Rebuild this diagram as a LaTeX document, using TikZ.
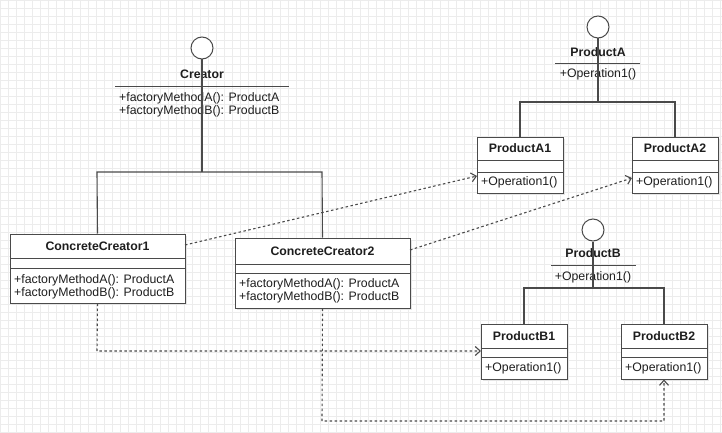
\documentclass[tikz,border=0pt]{standalone}
\usepackage{fontspec}
\setmainfont{Liberation Sans}
\usetikzlibrary{arrows.meta,calc}
\definecolor{lncol}{HTML}{4A4A4A}
\definecolor{gridcol}{HTML}{ECECEC}
\definecolor{txtcol}{HTML}{1E1E1E}
\tikzset{
  classbox/.style={draw=lncol, line width=1pt, fill=white, rectangle, inner sep=0pt},
  boxshadow/.style={fill=black!10, draw=none},
  sepline/.style={draw=lncol, line width=0.9pt},
  conn/.style={draw=lncol, line width=1.1pt},
  dep/.style={draw=lncol, line width=1.1pt, dash pattern=on 2.5pt off 2.5pt, -{Straight Barb[length=5pt,width=9pt]}},
  iface/.style={circle, draw=lncol, line width=1pt, fill=white, minimum size=22pt, inner sep=0pt},
  ttl/.style={font=\fontsize{12.3}{14}\selectfont\bfseries, text=txtcol, inner sep=0pt},
  mth/.style={font=\fontsize{12.3}{14}\selectfont, text=txtcol, inner sep=0pt, anchor=west},
  mthc/.style={font=\fontsize{12.3}{14}\selectfont, text=txtcol, inner sep=0pt},
}
\newcommand{\umlbox}[9]{%
  \fill[boxshadow] (#2+2,#3+2) rectangle (#4+2,#5+2);
  \node[classbox, minimum width={(#4-#2)*1pt}, minimum height={(#5-#3)*1pt}] (#1) at ({(#2+#4)/2},{(#3+#5)/2}) {};
  \draw[sepline] (#2,#6) -- (#4,#6);
  \draw[sepline] (#2,#7) -- (#4,#7);
  \node[ttl] (#1-t) at ({(#2+#4)/2},{(#3+#6)/2}) {#8};
  #9
}
\begin{document}
\begin{tikzpicture}[x=1pt,y=-1pt]
\useasboundingbox (0,0) rectangle (722,433);
\fill[white] (0,0) rectangle (722,433);
\foreach \gx in {0,8,...,720} \draw[gridcol, line width=0.6pt] (\gx,0) -- (\gx,433);
\foreach \gy in {0,8,...,432} \draw[gridcol, line width=0.6pt] (0,\gy) -- (722,\gy);

% ---------- Creator (interface) ----------
\node[iface] (creatorc) at (202,48) {};
\node[ttl] (creatort) at (202,74) {Creator};
\draw[sepline] (115,86) -- (289,86);
\node[mth] (creatorm1) at (119,98) {+factoryMethodA(): ProductA};
\node[mth] (creatorm2) at (119,111) {+factoryMethodB(): ProductB};
\coordinate (creatorj) at (202,172);
\coordinate (cjl) at (97,172);
\coordinate (cjr) at (322,172);

% ---------- ProductA (interface) ----------
\node[iface] (pac) at (598,27) {};
\node[ttl] (pat) at (598,52) {ProductA};
\draw[sepline] (555,63) -- (640,63);
\node[mthc] (pam) at (598,74) {+Operation1()};
\coordinate (paj) at (598,102);
\coordinate (pajl) at (520,102);
\coordinate (pajr) at (675,102);

% ---------- ProductB (interface) ----------
\node[iface] (pbc) at (593,230) {};
\node[ttl] (pbt) at (593,253) {ProductB};
\draw[sepline] (551,265) -- (636,265);
\node[mthc] (pbm) at (593,277) {+Operation1()};
\coordinate (pbj) at (593,288);
\coordinate (pbjl) at (524,288);
\coordinate (pbjr) at (664,288);

% ---------- classes ----------
\umlbox{cc1}{10}{234}{185}{303}{258}{268}{ConcreteCreator1}{%
  \node[mth] (cc1m1) at (14,280) {+factoryMethodA(): ProductA};
  \node[mth] (cc1m2) at (14,293) {+factoryMethodB(): ProductB};}
\umlbox{cc2}{235}{238}{410}{308}{264}{273}{ConcreteCreator2}{%
  \node[mth] (cc2m1) at (239,284) {+factoryMethodA(): ProductA};
  \node[mth] (cc2m2) at (239,297) {+factoryMethodB(): ProductB};}
\umlbox{pa1}{477}{137}{563}{193}{160}{172}{ProductA1}{%
  \node[mth] (pa1m) at (481,182) {+Operation1()};}
\umlbox{pa2}{632}{137}{718}{193}{160}{172}{ProductA2}{%
  \node[mth] (pa2m) at (636,182) {+Operation1()};}
\umlbox{pb1}{481}{324}{567}{379}{348}{357}{ProductB1}{%
  \node[mth] (pb1m) at (485,368) {+Operation1()};}
\umlbox{pb2}{621}{324}{707}{379}{348}{357}{ProductB2}{%
  \node[mth] (pb2m) at (625,368) {+Operation1()};}

% ---------- inheritance connectors ----------
\draw[conn] (creatorc.south) -- (creatorj);
\draw[conn] (cc1.north) -- (cjl) -- (cjr) -- (cc2.north);
\draw[conn] (pac.south) -- (paj);
\draw[conn] (pa1.north) -- (pajl) -- (pajr) -- (pa2.north);
\draw[conn] (pbc.south) -- (pbj);
\draw[conn] (pb1.north) -- (pbjl) -- (pbjr) -- (pb2.north);

% ---------- dependencies ----------
\coordinate (d1s) at (185,245);
\coordinate (d1e) at (477,176);
\draw[dep] (d1s) -- (d1e);
\coordinate (d2s) at (410,250);
\coordinate (d2e) at (632,178);
\draw[dep] (d2s) -- (d2e);
\coordinate (d3b) at (97,351);
\coordinate (d3e) at (481,351);
\draw[dep] (cc1.south) -- (d3b) -- (d3e);
\coordinate (d4a) at (322,421);
\coordinate (d4b) at (664,421);
\draw[dep] (cc2.south) -- (d4a) -- (d4b) -- (pb2.south);
\end{tikzpicture}
\end{document}
